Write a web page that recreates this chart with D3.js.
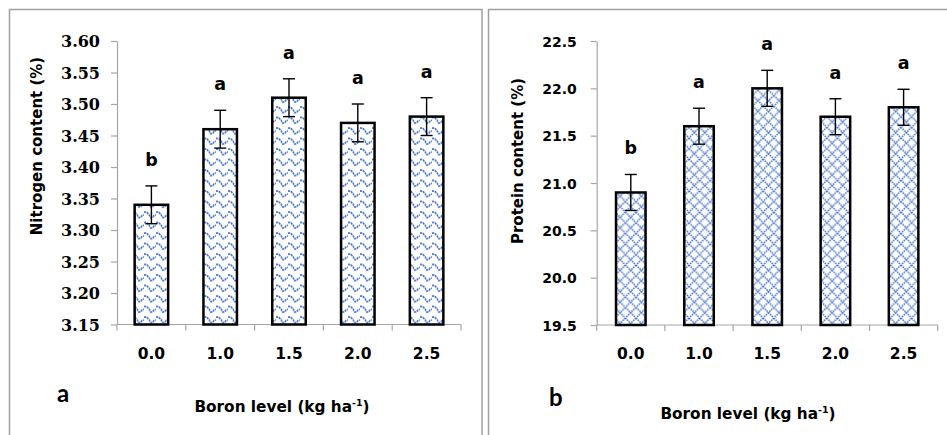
<!DOCTYPE html>
<html>
<head>
<meta charset="utf-8">
<script src="https://cdn.jsdelivr.net/npm/d3@7"></script>
<style>
html,body{margin:0;padding:0;background:#fff;}
svg{display:block;}
</style>
</head>
<body>
<svg id="chart" width="947" height="435"></svg>
<script>
// ---- data ----
const categories = ["0.0", "1.0", "1.5", "2.0", "2.5"];
const nitrogenValues = [3.34, 3.46, 3.51, 3.47, 3.48];
const nitrogenErrors = [0.03, 0.03, 0.03, 0.03, 0.03];
const proteinValues = [20.9, 21.6, 22.0, 21.7, 21.8];
const proteinErrors = [0.19, 0.19, 0.19, 0.19, 0.19];
const significanceLetters = ["b", "a", "a", "a", "a"];
const nitrogenTicks = [3.15, 3.20, 3.25, 3.30, 3.35, 3.40, 3.45, 3.50, 3.55, 3.60];
const proteinTicks = [19.5, 20.0, 20.5, 21.0, 21.5, 22.0, 22.5];
const xTitle = "Boron level (kg ha";
const xTitleSup = "-1";
const nitrogenTitle = "Nitrogen content (%)";
const proteinTitle = "Protein content (%)";
const panelLetters = ["a", "b"];

const svg = d3.select("#chart");
const BLUE = "#4472c4";
const defs = svg.append("defs");

// wave pattern (left)
const wave = defs.append("pattern").attr("id", "wave")
  .attr("patternUnits", "userSpaceOnUse").attr("width", 12).attr("height", 10.5);
wave.append("rect").attr("width", 12).attr("height", 10.5).attr("fill", "#fff");
wave.append("path")
  .attr("d", "M0,2 L2.5,2 L5,4.5 L6.5,7.5 L8.5,7.5 L10.5,5 L12,5")
  .attr("fill", "none").attr("stroke", BLUE).attr("stroke-width", 1.6)
  .attr("stroke-dasharray", "2.2,0.8");

// diamond lattice pattern (right)
const dia = defs.append("pattern").attr("id", "diamond")
  .attr("patternUnits", "userSpaceOnUse").attr("width", 10.6).attr("height", 10.6);
dia.append("rect").attr("width", 10.6).attr("height", 10.6).attr("fill", "#fff");
dia.append("path")
  .attr("d", "M0,0 L10.6,10.6 M10.6,0 L0,10.6")
  .attr("fill", "none").attr("stroke", BLUE).attr("stroke-width", 1.6)
  .attr("stroke-dasharray", "1.5,0.9");

// panel frames
svg.append("rect").attr("x", 9.5).attr("y", 9.5).attr("width", 472.5).attr("height", 440)
  .attr("fill", "none").attr("stroke", "#a0a0a0").attr("stroke-width", 1.5);
svg.append("rect").attr("x", 488.5).attr("y", 9.5).attr("width", 470).attr("height", 440)
  .attr("fill", "none").attr("stroke", "#a0a0a0").attr("stroke-width", 1.5);

function drawPanel(cfg) {
  const g = svg.append("g");
  const x = d3.scaleBand().domain(categories).range([cfg.x0, cfg.x1])
    .paddingInner(cfg.pad).paddingOuter(cfg.pad / 2);
  const y = d3.scaleLinear().domain([cfg.ticks[0], cfg.ticks[cfg.ticks.length - 1]])
    .range([cfg.yBottom, cfg.yTop]);

  // y axis
  const ya = g.append("g").attr("transform", `translate(${cfg.x0},0)`)
    .call(d3.axisLeft(y).tickValues(cfg.ticks).tickSize(6).tickSizeOuter(0)
      .tickPadding(cfg.tickPad).tickFormat(d3.format(cfg.fmt)));
  ya.select(".domain").attr("stroke", "#a6a6a6").attr("stroke-width", 1.2);
  ya.selectAll(".tick line").attr("stroke", "#a6a6a6").attr("stroke-width", 1.2);
  ya.selectAll(".tick text").attr("font-family", cfg.tickFont).attr("font-weight", "bold")
    .attr("font-size", cfg.tickSize).attr("fill", "#000").attr("dy", "0.36em");

  // x axis baseline & boundary ticks
  g.append("line").attr("x1", cfg.x0).attr("x2", cfg.x1)
    .attr("y1", y(cfg.ticks[0])).attr("y2", y(cfg.ticks[0]))
    .attr("stroke", "#a6a6a6").attr("stroke-width", 1.2);
  const bounds = categories.map(c => x(c) - x.step() * x.paddingInner() / 2)
    .concat([cfg.x1]);
  g.selectAll(".xb").data(bounds).join("line")
    .attr("x1", d => d).attr("x2", d => d)
    .attr("y1", y(cfg.ticks[0])).attr("y2", y(cfg.ticks[0]) + 6)
    .attr("stroke", "#a6a6a6").attr("stroke-width", 1.2);
  g.selectAll(".xl").data(categories).join("text")
    .attr("x", d => x(d) + x.bandwidth() / 2).attr("y", y(cfg.ticks[0]) + 34)
    .attr("text-anchor", "middle").attr("font-family", "DejaVu Sans")
    .attr("font-weight", "bold").attr("font-size", 15.5).text(d => d);

  // bars
  g.selectAll(".bar").data(cfg.values).join("rect")
    .attr("x", (d, i) => x(categories[i])).attr("width", x.bandwidth())
    .attr("y", d => y(d)).attr("height", d => y(cfg.ticks[0]) - y(d))
    .attr("fill", `url(#${cfg.pattern})`).attr("stroke", "#000").attr("stroke-width", 2.5);

  // error bars
  const eb = g.selectAll(".eb").data(cfg.values).join("g");
  eb.append("line")
    .attr("x1", (d, i) => x(categories[i]) + x.bandwidth() / 2)
    .attr("x2", (d, i) => x(categories[i]) + x.bandwidth() / 2)
    .attr("y1", (d, i) => y(d + cfg.errors[i])).attr("y2", (d, i) => y(d - cfg.errors[i]));
  eb.append("line")
    .attr("x1", (d, i) => x(categories[i]) + x.bandwidth() / 2 - 6)
    .attr("x2", (d, i) => x(categories[i]) + x.bandwidth() / 2 + 6)
    .attr("y1", (d, i) => y(d + cfg.errors[i])).attr("y2", (d, i) => y(d + cfg.errors[i]));
  eb.append("line")
    .attr("x1", (d, i) => x(categories[i]) + x.bandwidth() / 2 - 6)
    .attr("x2", (d, i) => x(categories[i]) + x.bandwidth() / 2 + 6)
    .attr("y1", (d, i) => y(d - cfg.errors[i])).attr("y2", (d, i) => y(d - cfg.errors[i]));
  eb.selectAll("line").attr("stroke", "#000").attr("stroke-width", 1.4);

  // significance letters
  g.selectAll(".sig").data(cfg.values).join("text")
    .attr("x", (d, i) => x(categories[i]) + x.bandwidth() / 2)
    .attr("y", (d, i) => y(d + cfg.errors[i]) - 20)
    .attr("text-anchor", "middle").attr("font-family", "DejaVu Sans")
    .attr("font-weight", "bold").attr("font-size", 17.5)
    .text((d, i) => significanceLetters[i]);

  // y title
  g.append("text")
    .attr("transform", `translate(${cfg.yTitleX},${cfg.yTitleY}) rotate(-90)`)
    .attr("text-anchor", "middle").attr("font-family", "DejaVu Sans")
    .attr("font-weight", "bold").attr("font-size", 15).text(cfg.yTitle);

  // x title
  const xt = g.append("text").attr("x", cfg.xTitleX).attr("y", cfg.xTitleY)
    .attr("text-anchor", "middle").attr("font-family", "DejaVu Sans")
    .attr("font-weight", "bold").attr("font-size", 15.3);
  xt.append("tspan").text(xTitle);
  xt.append("tspan").attr("font-size", 9.5).attr("dy", -6).text(xTitleSup);
  xt.append("tspan").attr("dy", 6).text(")");

  // panel letter
  g.append("text").attr("x", cfg.letterX).attr("y", cfg.letterY)
    .attr("font-family", "Lato").attr("font-weight", "bold").attr("font-size", 24)
    .text(cfg.letter);
}

drawPanel({
  x0: 117, x1: 461, yTop: 41, yBottom: 324.5, pad: 0.513,
  ticks: nitrogenTicks, values: nitrogenValues, errors: nitrogenErrors,
  fmt: ".2f", tickFont: "DejaVu Serif", tickSize: 16, tickPad: 11,
  pattern: "wave", yTitle: nitrogenTitle, yTitleX: 42, yTitleY: 146,
  xTitleX: 282, xTitleY: 412, letter: panelLetters[0], letterX: 57, letterY: 402
});
drawPanel({
  x0: 596.7, x1: 937.7, yTop: 41, yBottom: 325, pad: 0.567,
  ticks: proteinTicks, values: proteinValues, errors: proteinErrors,
  fmt: ".1f", tickFont: "DejaVu Sans", tickSize: 14, tickPad: 14,
  pattern: "diamond", yTitle: proteinTitle, yTitleX: 523, yTitleY: 161,
  xTitleX: 748, xTitleY: 419, letter: panelLetters[1], letterX: 549, letterY: 406
});
</script>
</body>
</html>
